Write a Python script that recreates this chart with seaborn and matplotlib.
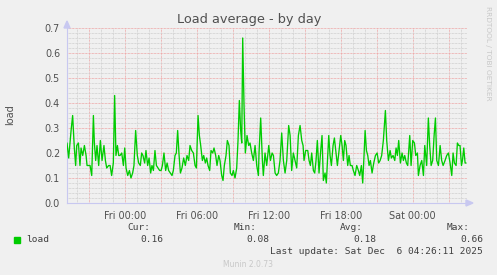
import numpy as np
import pandas as pd
import matplotlib
matplotlib.use("Agg")
import matplotlib.pyplot as plt
import seaborn as sns

# ---- data (hours relative to Fri 00:00, load average) ----
hours = [
    -4.81, -4.67, -4.47, -4.34, -4.20, -4.09, -4.00, -3.86, -3.73, -3.64, -3.50, -3.36, -3.22, -3.14,
    -2.98, -2.89, -2.75, -2.61, -2.53, -2.42, -2.31, -2.17, -2.03, -1.89, -1.73, -1.61, -1.50, -1.34,
    -1.22, -1.09, -0.95, -0.84, -0.73, -0.61, -0.50, -0.39, -0.25, -0.11, 0.00, 0.11, 0.25, 0.39,
    0.52, 0.66, 0.77, 0.91, 1.05, 1.16, 1.30, 1.41, 1.52, 1.66, 1.77, 1.91, 2.03, 2.16, 2.27, 2.39,
    2.52, 2.64, 2.77, 2.91, 3.03, 3.14, 3.27, 3.41, 3.53, 3.66, 3.80, 3.94, 4.05, 4.19, 4.30, 4.41,
    4.53, 4.64, 4.77, 4.91, 5.05, 5.19, 5.33, 5.44, 5.58, 5.72, 5.86, 5.97, 6.11, 6.22, 6.33, 6.47,
    6.58, 6.72, 6.83, 6.94, 7.08, 7.19, 7.33, 7.44, 7.58, 7.69, 7.83, 7.94, 8.08, 8.19, 8.30, 8.44,
    8.55, 8.69, 8.80, 8.94, 9.05, 9.19, 9.33, 9.44, 9.55, 9.66, 9.75, 9.83, 9.94, 10.05, 10.19, 10.33,
    10.44, 10.58, 10.72, 10.86, 11.00, 11.14, 11.19, 11.33, 11.47, 11.55, 11.69, 11.83, 12.00, 12.14,
    12.28, 12.39, 12.53, 12.66, 12.80, 12.94, 13.08, 13.22, 13.36, 13.50, 13.66, 13.78, 13.91, 14.05,
    14.19, 14.33, 14.47, 14.61, 14.75, 14.86, 14.94, 15.08, 15.25, 15.36, 15.47, 15.58, 15.72, 15.83,
    15.94, 16.05, 16.19, 16.33, 16.44, 16.55, 16.69, 16.80, 17.00, 17.11, 17.22, 17.36, 17.47, 17.61,
    17.72, 17.86, 18.00, 18.11, 18.22, 18.33, 18.44, 18.58, 18.69, 18.80, 18.94, 19.05, 19.19, 19.33,
    19.47, 19.58, 19.72, 19.83, 19.94, 20.03, 20.14, 20.25, 20.36, 20.47, 20.61, 20.75, 20.89, 21.03,
    21.16, 21.28, 21.41, 21.55, 21.72, 21.83, 21.97, 22.11, 22.22, 22.36, 22.50, 22.61, 22.72, 22.83,
    22.97, 23.11, 23.22, 23.33, 23.47, 23.58, 23.75, 23.86, 24.00, 24.14, 24.25, 24.39, 24.47, 24.61,
    24.75, 24.89, 25.00, 25.16, 25.30, 25.41, 25.53, 25.66, 25.78, 25.89, 26.00, 26.14, 26.28, 26.41,
    26.53, 26.69, 26.83, 26.97, 27.11, 27.25, 27.36, 27.47, 27.61, 27.72, 27.83, 27.94, 28.06, 28.14,
    28.25, 28.36, 28.44,
]
load = [
    0.24, 0.18, 0.29, 0.35, 0.22, 0.15, 0.23, 0.24, 0.15, 0.22, 0.19, 0.23, 0.19, 0.15,
    0.15, 0.15, 0.11, 0.35, 0.24, 0.17, 0.23, 0.15, 0.25, 0.17, 0.23, 0.17, 0.14, 0.15,
    0.15, 0.11, 0.16, 0.43, 0.19, 0.23, 0.19, 0.19, 0.20, 0.15, 0.22, 0.14, 0.11, 0.13,
    0.10, 0.12, 0.15, 0.29, 0.19, 0.16, 0.15, 0.20, 0.19, 0.16, 0.21, 0.15, 0.18, 0.12, 0.15, 0.13,
    0.21, 0.15, 0.14, 0.13, 0.13, 0.15, 0.20, 0.13, 0.16, 0.13, 0.12, 0.11, 0.13, 0.19, 0.20, 0.29,
    0.19, 0.12, 0.14, 0.18, 0.15, 0.19, 0.17, 0.23, 0.21, 0.20, 0.15, 0.14, 0.35, 0.27, 0.23, 0.17,
    0.19, 0.16, 0.18, 0.15, 0.13, 0.21, 0.20, 0.22, 0.19, 0.15, 0.19, 0.17, 0.11, 0.09, 0.15, 0.19,
    0.25, 0.23, 0.12, 0.11, 0.13, 0.10, 0.14, 0.25, 0.41, 0.29, 0.24, 0.66, 0.39, 0.20, 0.27, 0.23,
    0.24, 0.20, 0.17, 0.23, 0.15, 0.11, 0.20, 0.34, 0.17, 0.11, 0.20, 0.15, 0.23, 0.17,
    0.20, 0.19, 0.12, 0.11, 0.12, 0.17, 0.28, 0.17, 0.12, 0.17, 0.31, 0.27, 0.13, 0.20,
    0.17, 0.14, 0.27, 0.31, 0.25, 0.23, 0.17, 0.21, 0.21, 0.17, 0.15, 0.20, 0.13, 0.12,
    0.17, 0.25, 0.12, 0.21, 0.27, 0.09, 0.12, 0.08, 0.27, 0.19, 0.15, 0.23, 0.26, 0.20,
    0.15, 0.21, 0.27, 0.23, 0.17, 0.25, 0.23, 0.15, 0.19, 0.15, 0.15, 0.13, 0.11, 0.15,
    0.13, 0.11, 0.15, 0.08, 0.19, 0.29, 0.21, 0.19, 0.15, 0.17, 0.12, 0.16, 0.19, 0.20,
    0.16, 0.17, 0.19, 0.25, 0.37, 0.25, 0.17, 0.21, 0.18, 0.19, 0.17, 0.22, 0.19, 0.25,
    0.16, 0.20, 0.17, 0.19, 0.16, 0.15, 0.27, 0.15, 0.25, 0.24, 0.19, 0.20, 0.11, 0.15,
    0.17, 0.11, 0.23, 0.15, 0.34, 0.23, 0.15, 0.17, 0.27, 0.34, 0.17, 0.15, 0.23, 0.17,
    0.15, 0.17, 0.19, 0.20, 0.16, 0.11, 0.20, 0.16, 0.15, 0.24, 0.23, 0.23, 0.15, 0.17,
    0.22, 0.16, 0.16,
]
tick_hours = [0, 6, 12, 18, 24]
tick_labels = ["Fri 00:00", "Fri 06:00", "Fri 12:00", "Fri 18:00", "Sat 00:00"]
y_ticks = [0.0, 0.1, 0.2, 0.3, 0.4, 0.5, 0.6, 0.7]
legend_stats = {"Cur:": "0.16", "Min:": "0.08", "Avg:": "0.18", "Max:": "0.66"}
title = "Load average - by day"
last_update = "Last update: Sat Dec  6 04:26:11 2025"

df = pd.DataFrame({"hour": hours, "load": load})

sns.set_theme(style="white")
plt.rcParams["font.family"] = ["DejaVu Sans"]

W, H = 497, 275
BG = "#F0F0F0"
fig = plt.figure(figsize=(W / 100, H / 100), dpi=100, facecolor=BG)
ax = fig.add_axes([67 / W, (H - 203) / H, 400 / W, 175 / H])
ax.set_facecolor(BG)

sns.lineplot(data=df, x="hour", y="load", ax=ax, color="#00CC00", linewidth=0.95, zorder=5)

ax.set_xlim(-4.81, 28.52)
ax.set_ylim(0, 0.7)

# grid
xmaj = np.arange(-3, 29, 3)
ax.set_xticks(xmaj)
ax.set_xticklabels([tick_labels[tick_hours.index(int(h))] if int(h) in tick_hours else "" for h in xmaj])
ax.set_xticks(np.arange(-4, 29, 1), minor=True)
ax.set_yticks(y_ticks)
ax.set_yticklabels([f"{v:.1f}" for v in y_ticks])
ax.set_yticks(np.arange(0, 0.701, 0.02), minor=True)

dot = (0, (0.72, 0.72))
ax.grid(which="minor", color="#CFCFCF", linestyle=dot, linewidth=0.72, zorder=1)
ax.grid(which="major", color="#EEA5A5", linestyle=dot, linewidth=0.72, zorder=2)
ax.set_axisbelow(True)

for s in ["top", "right"]:
    ax.spines[s].set_visible(False)
for s in ["left", "bottom"]:
    ax.spines[s].set_color("#C8C8F0")
    ax.spines[s].set_linewidth(0.8)

ax.tick_params(axis="both", which="major", length=2.5, width=0.6, color="#B0B0B0",
               labelsize=6.9, labelcolor="#505050", pad=2.5)
ax.tick_params(axis="both", which="minor", length=1.5, width=0.6, color="#C8C8C8")
ax.tick_params(axis="x", which="major", pad=3)
ax.set_xlabel("")
ax.set_ylabel("")

# axis arrows
fig.patches.append(plt.Polygon([[67 / W - 3 / W, 1 - 28 / H], [67 / W + 3 / W, 1 - 28 / H], [67 / W, 1 - 21 / H]],
                               closed=True, transform=fig.transFigure, color="#C8C8F0", zorder=10))
fig.patches.append(plt.Polygon([[466 / W, 1 - 200 / H], [466 / W, 1 - 206 / H], [473 / W, 1 - 203 / H]],
                               closed=True, transform=fig.transFigure, color="#C8C8F0", zorder=10))
fig.add_artist(plt.Line2D([466 / W, 470 / W], [1 - 203 / H, 1 - 203 / H], transform=fig.transFigure,
                          color="#C8C8F0", lw=0.8))


def px(x, y):
    return x / W, 1 - y / H


fig.text(*px(249, 19.5), title, ha="center", va="center", fontsize=9.3, color="#505050")
fig.text(*px(10, 115), "load", ha="center", va="center", rotation=90, fontsize=7, color="#505050")
fig.text(*px(488, 53), "RRDTOOL / TOBI OETIKER", ha="center", va="center", rotation=270,
         fontsize=5.3, color="#C8C8C8")

mono = "DejaVu Sans Mono"
fig.patches.append(plt.Rectangle(px(14, 242.5), 6 / W, 6 / H, transform=fig.transFigure,
                                 color="#00CC00", zorder=10))
fig.text(*px(26.5, 239.5), "load", ha="left", va="center", fontsize=6.8, family=mono, color="#404040")
label_x = {"Cur:": 150, "Min:": 257, "Avg:": 363, "Max:": 470}
value_x = {"Cur:": 163, "Min:": 269, "Avg:": 376, "Max:": 483}
for k, v in legend_stats.items():
    fig.text(*px(label_x[k], 228), k, ha="right", va="center", fontsize=6.8, family=mono, color="#404040")
    fig.text(*px(value_x[k], 239.5), v, ha="right", va="center", fontsize=6.8, family=mono, color="#404040")
fig.text(*px(483, 251.5), last_update, ha="right", va="center", fontsize=6.8, family=mono, color="#404040")
fig.text(*px(248, 264.5), "Munin 2.0.73", ha="center", va="center", fontsize=5.5, color="#C8C8C8")

fig.savefig("out.png", dpi=100, facecolor=BG)
